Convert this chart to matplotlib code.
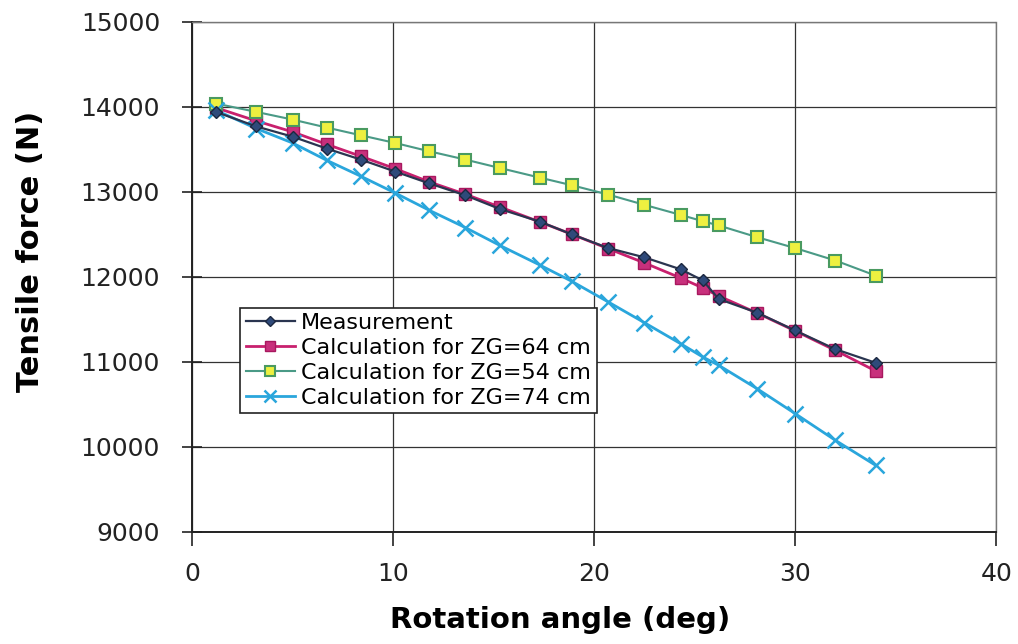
import matplotlib
matplotlib.use("Agg")
import matplotlib.pyplot as plt

angle = [1.2, 3.2, 5.0, 6.7, 8.4, 10.1, 11.8, 13.6, 15.3, 17.3, 18.9,
         20.7, 22.5, 24.3, 25.4, 26.2, 28.1, 30.0, 32.0, 34.0]

measurement = [13940, 13770, 13650, 13510, 13380, 13240, 13100, 12960, 12800, 12650, 12500,
               12340, 12230, 12090, 11960, 11740, 11580, 11370, 11150, 10990]
zg64 = [13990, 13835, 13706, 13560, 13419, 13274, 13118, 12972, 12824, 12647, 12501,
        12333, 12165, 11988, 11871, 11776, 11576, 11365, 11136, 10894]
zg54 = [14039, 13941, 13851, 13757, 13666, 13576, 13478, 13380, 13282, 13168, 13078,
        12969, 12848, 12730, 12656, 12605, 12468, 12339, 12193, 12016]
zg74 = [13960, 13745, 13576, 13372, 13184, 12988, 12784, 12580, 12372, 12140, 11947,
        11706, 11462, 11215, 11059, 10960, 10686, 10392, 10078, 9784]

labels = ["Measurement", "Calculation for ZG=64 cm",
          "Calculation for ZG=54 cm", "Calculation for ZG=74 cm"]

plt.rcParams['font.family'] = ['DejaVu Sans']

fig = plt.figure(figsize=(10.18, 6.44), dpi=100)
ax = fig.add_axes([0.1886, 0.174, 0.790, 0.792])

ax.plot(angle, measurement, color='#2a3550', lw=1.6, marker='D', ms=6,
        mfc='#2f4a7a', mec='#1c2840', label=labels[0], zorder=4)
ax.plot(angle, zg64, color='#c8206e', lw=2.0, marker='s', ms=9,
        mfc='#c8307c', mec='#a8185e', label=labels[1], zorder=3)
ax.plot(angle, zg54, color='#4a9a86', lw=1.5, marker='s', ms=9,
        mfc='#eef040', mec='#4a9a60', mew=1.5, label=labels[2], zorder=3)
ax.plot(angle, zg74, color='#2aa6dc', lw=2.0, marker='x', ms=11, mew=1.8,
        mec='#2aa6dc', label=labels[3], zorder=3)

ax.set_xlim(0, 40)
ax.set_ylim(9000, 15000)
ax.set_xticks([0, 10, 20, 30, 40])
ax.set_yticks(range(9000, 15001, 1000))
ax.grid(True, color='#333333', lw=0.9)
ax.set_axisbelow(True)

for s in ['left', 'bottom']:
    ax.spines[s].set_color('#222222')
    ax.spines[s].set_linewidth(1.4)
for s in ['top', 'right']:
    ax.spines[s].set_color('#777777')
    ax.spines[s].set_linewidth(1.0)
    ax.spines[s].set_linestyle((0, (2, 1)))

ax.tick_params(axis='x', direction='out', length=10, width=1.2, labelsize=18, pad=12, colors='#222222')
ax.tick_params(axis='y', direction='inout', length=14, width=1.2, labelsize=18, pad=16, colors='#222222')

ax.set_xlabel("Rotation angle (deg)", fontsize=21, fontweight='bold')
ax.xaxis.set_label_coords(0.458, -0.145)
ax.set_ylabel("Tensile force (N)", fontsize=22, fontweight='bold')
ax.yaxis.set_label_coords(-0.183, 0.55)

leg = ax.legend(loc='upper left', bbox_to_anchor=(0.06, 0.44), fontsize=16,
                frameon=True, fancybox=False, edgecolor='#222222', framealpha=1,
                borderpad=0.25, labelspacing=0.22, handlelength=2.2, handletextpad=0.3,
                borderaxespad=0, markerscale=0.8)
leg.get_frame().set_linewidth(1.2)

fig.savefig("out.png", dpi=100)
